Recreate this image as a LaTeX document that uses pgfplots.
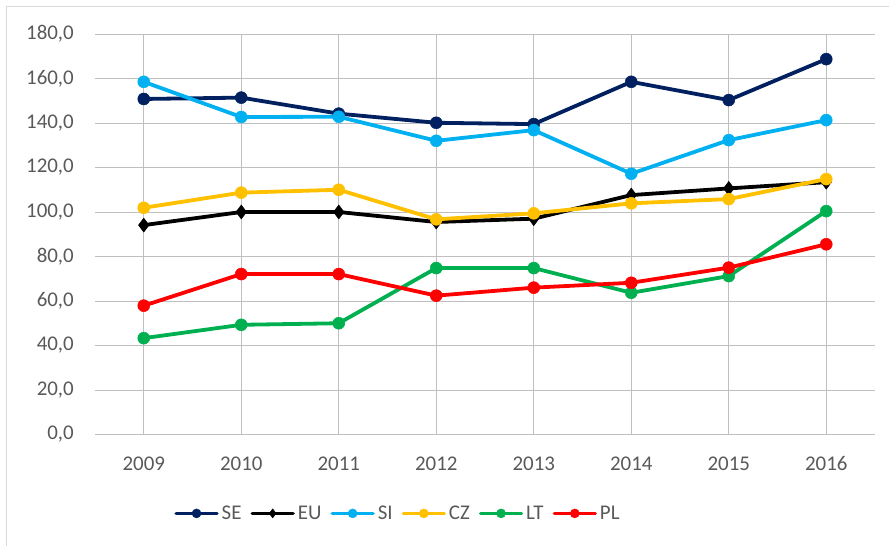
\documentclass[border=0pt]{standalone}
\usepackage{pgfplots}
\pgfplotsset{compat=1.18}
\usepackage{fontspec}
\setmainfont{Carlito}
\definecolor{cSE}{HTML}{002060}
\definecolor{cEU}{HTML}{000000}
\definecolor{cSI}{HTML}{00B0F0}
\definecolor{cCZ}{HTML}{FFC000}
\definecolor{cLT}{HTML}{00B050}
\definecolor{cPL}{HTML}{FF0000}
\definecolor{grid}{HTML}{D9D9D9}
\definecolor{txt}{HTML}{595959}
\begin{document}
\begin{tikzpicture}
\useasboundingbox (-95bp,-111.5bp) rectangle (794bp,434.5bp);
\draw[grid, line width=1bp] (-88bp,-140bp) rectangle (820bp,427.5bp);
\begin{axis}[
  at={(0,0)}, anchor=south west,
  scale only axis, width=780bp, height=400.5bp,
  xmin=-0.5, xmax=7.5, ymin=0, ymax=180,
  xtick={0,...,7},
  xticklabels={2009,2010,2011,2012,2013,2014,2015,2016},
  ytick={0,20,...,180},
  ymajorgrids, grid style={grid, line width=0.8bp},
  axis line style={draw=none},
  major tick length=0pt,
  tick label style={font=\fontsize{21}{25}\selectfont, text=txt},
  xticklabel style={anchor=center, inner sep=0pt, yshift=-29bp},
  yticklabel style={anchor=east, inner sep=0pt, xshift=-21bp},
  /pgf/number format/.cd, fixed, fixed zerofill, precision=1, use comma, assume math mode=true,
  /pgfplots/.cd,
  every axis plot/.append style={line width=3.8bp, line join=round, line cap=round},
  legend columns=6,
  legend style={at={(0.3878,-0.197)}, anchor=center, draw=none, fill=none,
    font=\fontsize{21}{25}\selectfont, text=txt,
    nodes={inner sep=1bp},
    /tikz/every odd column/.append style={column sep=2bp},
    /tikz/every even column/.append style={column sep=8bp}},
  legend image code/.code={
    \draw[line width=3.3bp] (0bp,0bp) -- (41bp,0bp);
    \draw[mark size=4.5bp,line width=0.5bp] plot coordinates {(20.5bp,0bp)};
  },
]
\addplot[cSE, mark=*, mark size=6bp, mark options={line width=0.5bp}] coordinates {
(0,150.8) (1,151.4) (2,144.2) (3,140.1) (4,139.5) (5,158.5) (6,150.3) (7,168.7)};
\addlegendentry{SE}
\addplot[cEU, mark=diamond*, mark size=7bp, mark options={line width=0.5bp}] coordinates {
(0,94.1) (1,100.0) (2,100.0) (3,95.5) (4,97.0) (5,107.6) (6,110.6) (7,113.4)};
\addlegendentry{EU}
\addplot[cSI, mark=*, mark size=6bp, mark options={line width=0.5bp}] coordinates {
(0,158.5) (1,142.7) (2,142.8) (3,132.0) (4,136.8) (5,117.2) (6,132.3) (7,141.3)};
\addlegendentry{SI}
\addplot[cCZ, mark=*, mark size=6bp, mark options={line width=0.5bp}] coordinates {
(0,101.9) (1,108.7) (2,110.0) (3,96.7) (4,99.4) (5,103.9) (6,105.8) (7,114.8)};
\addlegendentry{CZ}
\addplot[cLT, mark=*, mark size=6bp, mark options={line width=0.5bp}] coordinates {
(0,43.3) (1,49.3) (2,50.0) (3,74.8) (4,74.8) (5,63.7) (6,71.2) (7,100.4)};
\addlegendentry{LT}
\addplot[cPL, mark=*, mark size=6bp, mark options={line width=0.5bp}] coordinates {
(0,57.9) (1,72.1) (2,72.1) (3,62.4) (4,66.0) (5,68.2) (6,75.0) (7,85.5)};
\addlegendentry{PL}
\end{axis}
\end{tikzpicture}
\end{document}
